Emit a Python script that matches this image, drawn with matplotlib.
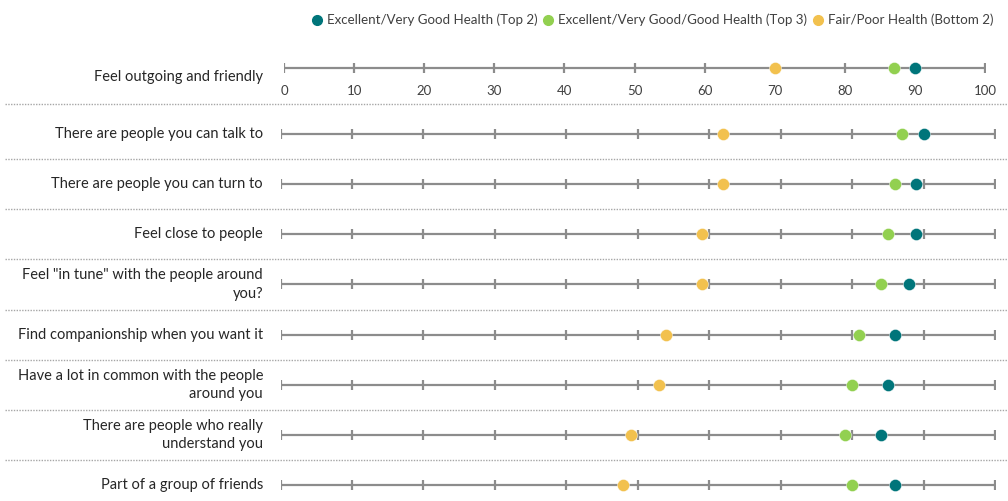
import matplotlib
matplotlib.use("Agg")
import matplotlib.pyplot as plt
import matplotlib.transforms as mtransforms
from matplotlib.lines import Line2D

plt.rcParams["font.family"] = ["Lato", "DejaVu Sans"]

# --- data -----------------------------------------------------------------
items = [
    "Feel outgoing and friendly",
    "There are people you can talk to",
    "There are people you can turn to",
    "Feel close to people",
    "Feel \"in tune\" with the people around\nyou?",
    "Find companionship when you want it",
    "Have a lot in common with the people\naround you",
    "There are people who really\nunderstand you",
    "Part of a group of friends",
]
top2 = [90, 90, 89, 89, 88, 86, 85, 84, 86]
top3 = [87, 87, 86, 85, 84, 81, 80, 79, 80]
bottom2 = [70, 62, 62, 59, 59, 54, 53, 49, 48]
series_names = [
    "Excellent/Very Good Health (Top 2)",
    "Excellent/Very Good/Good Health (Top 3)",
    "Fair/Poor Health (Bottom 2)",
]
ticks = list(range(0, 101, 10))

# --- style ----------------------------------------------------------------
colors = ["#00757A", "#92D050", "#F2C14E"]
line_gray = "#8C8C8C"
sep_gray = "#A6A6A6"
text_col = "#262626"
label_fs = 10.5
W, H = 1008, 501


def px_axes(fig, x0, y0, x1, y1):
    return fig.add_axes([x0 / W, 1 - y1 / H, (x1 - x0) / W, (y1 - y0) / H])


def draw_row(ax, y, vals):
    ax.hlines(y, 0, 100, color=line_gray, lw=1.6, zorder=1)
    ax.plot(ticks, [y] * len(ticks), ls="none", marker="|", ms=6.5,
            mew=1.6, color=line_gray, zorder=1)
    for v, c in zip(vals, colors):
        ax.plot([v], [y], ls="none", marker="o", ms=8.7, color=c,
                mec="white", mew=0.3, zorder=3)


fig = plt.figure(figsize=(W / 100, H / 100), dpi=100)

# top row carries its own axis with tick labels
ax_top = px_axes(fig, 284, 58, 985, 78)
ax_top.set_xlim(0, 100)
ax_top.set_ylim(-1, 1)
draw_row(ax_top, 0, (top2[0], top3[0], bottom2[0]))
ax_top.set_xticks(ticks)
ax_top.tick_params(axis="x", length=0, pad=5, labelsize=9.5,
                   labelcolor="#404040")
ax_top.set_yticks([])
for s in ax_top.spines.values():
    s.set_visible(False)
ax_top.patch.set_visible(False)

# remaining rows
ax = px_axes(fig, 280.5, 104, 995, 501)
ax.set_xlim(0, 100)
n = len(items) - 1
ax.set_ylim(7.32, -0.6)
ax.axis("off")
for i in range(n):
    draw_row(ax, i, (top2[i + 1], top3[i + 1], bottom2[i + 1]))

# labels and dotted separators
tr_main = mtransforms.blended_transform_factory(fig.transFigure, ax.transData)
fig.text(263 / W, 1 - 77 / H, items[0], ha="right", va="center",
         fontsize=label_fs, color=text_col)
for i in range(n):
    ax.text(263 / W, i, items[i + 1], transform=tr_main, ha="right",
            va="center", multialignment="right", fontsize=label_fs,
            color=text_col, linespacing=1.4)
for ys in [-0.6] + [i + 0.5 for i in range(n - 1)]:
    ax.plot([5 / W, 1.0], [ys, ys], transform=tr_main, clip_on=False,
            color=sep_gray, lw=1.0, ls=(0, (1, 1)))

# legend
handles = [Line2D([], [], ls="none", marker="o", ms=7, color=c) for c in colors]
fig.legend(handles, series_names, loc="center right",
           bbox_to_anchor=(993 / W, 1 - 20 / H), ncol=3, frameon=False,
           fontsize=9.6, handlelength=0.7, handletextpad=0.4,
           columnspacing=0.45, borderaxespad=0, borderpad=0,
           labelcolor="#404040")

fig.savefig("out.png", dpi=100)
